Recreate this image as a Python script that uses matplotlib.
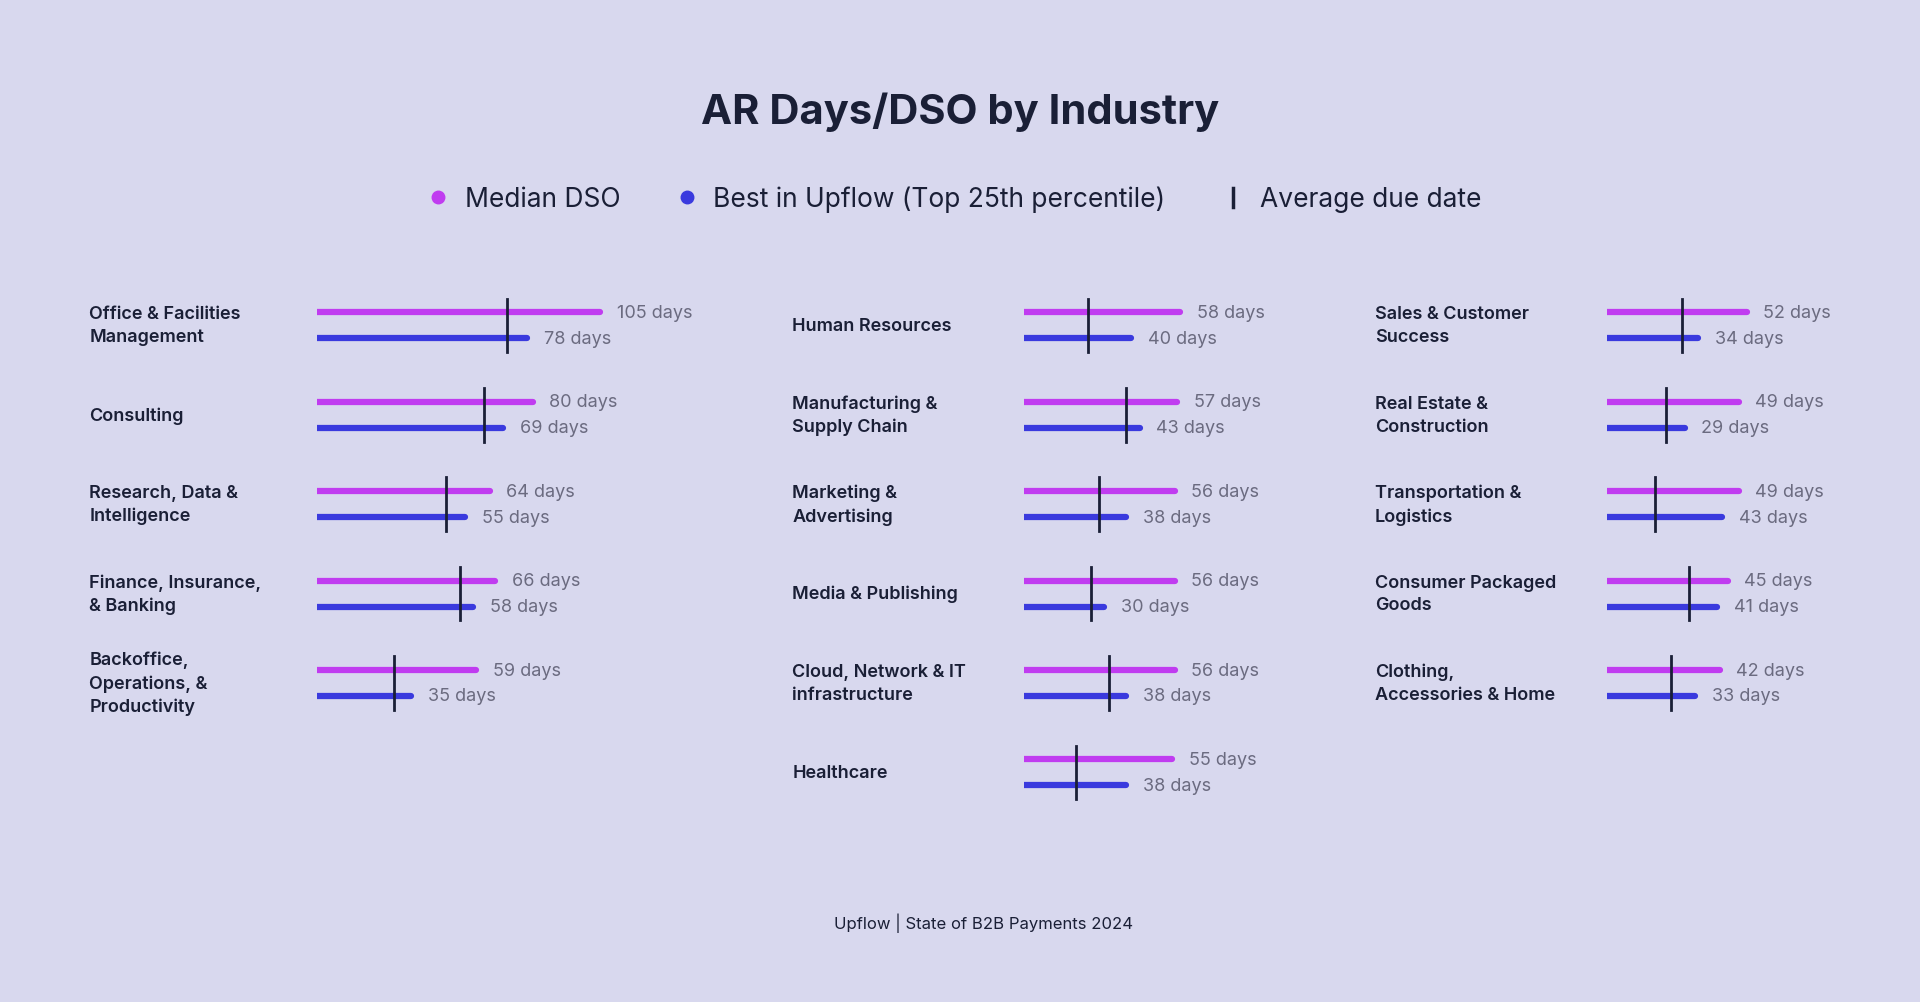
import matplotlib.pyplot as plt
from matplotlib.transforms import blended_transform_factory
from matplotlib.lines import Line2D

plt.rcParams['font.family'] = ['Inter', 'DejaVu Sans']

col1_labels = ["Office & Facilities\nManagement", "Consulting", "Research, Data &\nIntelligence",
               "Finance, Insurance,\n& Banking", "Backoffice,\nOperations, &\nProductivity"]
col1_median = [105, 80, 64, 66, 59]
col1_best = [78, 69, 55, 58, 35]
col1_due = [70.5, 62, 48, 53, 28.5]

col2_labels = ["Human Resources", "Manufacturing &\nSupply Chain", "Marketing &\nAdvertising",
               "Media & Publishing", "Cloud, Network & IT\ninfrastructure", "Healthcare"]
col2_median = [58, 57, 56, 56, 56, 55]
col2_best = [40, 43, 38, 30, 38, 38]
col2_due = [24, 38, 28, 25, 31.5, 19.5]

col3_labels = ["Sales & Customer\nSuccess", "Real Estate &\nConstruction", "Transportation &\nLogistics",
               "Consumer Packaged\nGoods", "Clothing,\nAccessories & Home"]
col3_median = [52, 49, 49, 45, 42]
col3_best = [34, 29, 43, 41, 33]
col3_due = [28, 22, 18, 30.5, 24]

BG = "#d8d8ee"
PURPLE = "#c03cf0"
BLUE = "#3a3ade"
DARK = "#1a1f36"
GRAY = "#6b6b80"

W, H = 1568, 819
fx = lambda px: px / W
fy = lambda py: 1 - py / H

fig = plt.figure(figsize=(19.2, 10.03), dpi=100, facecolor=BG)

fig.text(0.5, fy(92), "AR Days/DSO by Industry", ha="center", va="center",
         fontsize=30, fontweight="bold", color=DARK)

# legend
fig.add_artist(Line2D([fx(358)], [fy(162)], marker="o", ms=9, color=PURPLE, transform=fig.transFigure))
fig.text(fx(380), fy(163), "Median DSO", va="center", fontsize=19, color=DARK)
fig.add_artist(Line2D([fx(561)], [fy(162)], marker="o", ms=9, color=BLUE, transform=fig.transFigure))
fig.text(fx(582), fy(163), "Best in Upflow (Top 25th percentile)", va="center", fontsize=19, color=DARK)
fig.add_artist(Line2D([fx(1007), fx(1007)], [fy(154), fy(170)], lw=2.5, color=DARK, transform=fig.transFigure))
fig.text(fx(1029), fy(163), "Average due date", va="center", fontsize=19, color=DARK)

fig.text(fx(803), fy(754), "Upflow | State of B2B Payments 2024", ha="center", va="center",
         fontsize=12, color=DARK)

PX_PER_DAY = 2.2
XMAX = 140
columns = [
    (73, 259, col1_labels, col1_median, col1_best, col1_due),
    (647, 836, col2_labels, col2_median, col2_best, col2_due),
    (1123, 1312, col3_labels, col3_median, col3_best, col3_due),
]

for label_x, bar_x, labels, median, best, due in columns:
    top, bottom = 230, 668
    ax = fig.add_axes([fx(bar_x), fy(bottom), XMAX * PX_PER_DAY / W, (bottom - top) / H])
    ax.set_xlim(0, XMAX)
    ax.set_ylim(5.5, -0.5)
    ax.axis("off")
    ax.patch.set_alpha(0)
    tr = blended_transform_factory(fig.transFigure, ax.transData)
    for k, (lab, m, b, d) in enumerate(zip(labels, median, best, due)):
        ym, yb = k - 0.145, k + 0.145
        ax.plot([0, m], [ym, ym], color=PURPLE, lw=4.5, solid_capstyle="round")
        ax.plot([0, b], [yb, yb], color=BLUE, lw=4.5, solid_capstyle="round")
        ax.plot([d, d], [k - 0.3, k + 0.3], color=DARK, lw=2)
        ax.annotate(f"{m} days", (m, ym), xytext=(12, 0), textcoords="offset points",
                    va="center", fontsize=13, color=GRAY)
        ax.annotate(f"{b} days", (b, yb), xytext=(12, 0), textcoords="offset points",
                    va="center", fontsize=13, color=GRAY)
        ax.text(fx(label_x), k, lab, transform=tr, va="center", ha="left",
                fontsize=13, fontweight="semibold", color=DARK, linespacing=1.45)

fig.savefig("out.png", dpi=100, facecolor=BG)
